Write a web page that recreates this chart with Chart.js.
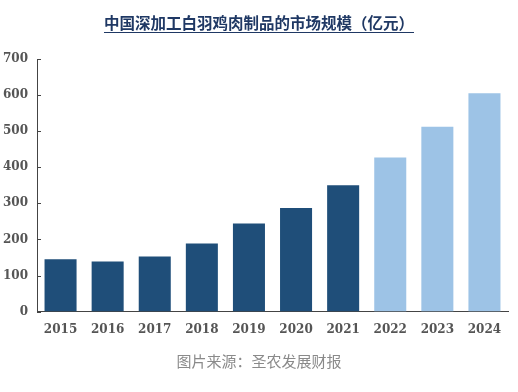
<!DOCTYPE html>
<html><head><meta charset="utf-8">
<script src="https://cdn.jsdelivr.net/npm/chart.js@4"></script>
<style>
html,body{margin:0;padding:0;background:#fff;}
#wrap{position:relative;width:518px;height:392px;overflow:hidden;}
#title{position:absolute;left:0;width:518px;top:11px;text-align:center;font-family:"Noto Sans CJK SC";font-weight:bold;font-size:15.5px;color:#1f3864;text-decoration:underline;text-underline-offset:3px;line-height:22px;}
#foot{position:absolute;left:0;width:518px;top:351px;text-align:center;font-family:"Noto Sans CJK SC";font-size:15px;color:#8a8a8a;line-height:20px;}
canvas{position:absolute;left:0;top:0;}
</style></head>
<body><div id="wrap">
<canvas id="c" width="518" height="392"></canvas>
<div id="title">中国深加工白羽鸡肉制品的市场规模（亿元）</div>
<div id="foot">图片来源：圣农发展财报</div>
</div>
<script>
const categories = ["2015","2016","2017","2018","2019","2020","2021","2022","2023","2024"];
const values = [145, 139, 153, 189, 244, 287, 350, 427, 512, 605];
const actualCount = 7; // 2015-2021 actual, 2022-2024 forecast
const yTicks = [0,100,200,300,400,500,600,700];
const colors = values.map((v,i)=> i < actualCount ? "#1f4e79" : "#9dc3e6");

const innerTicks = {
  id:"innerTicks",
  afterDraw(chart){
    const ctx=chart.ctx, y=chart.scales.y, x=chart.scales.x;
    ctx.save();
    ctx.strokeStyle="#444"; ctx.lineWidth=1;
    yTicks.forEach(t=>{
      const py=Math.round(y.getPixelForValue(t))+0.5;
      ctx.beginPath(); ctx.moveTo(x.left,py); ctx.lineTo(x.left+4,py); ctx.stroke();
    });
    ctx.restore();
  }
};

new Chart(document.getElementById("c"),{
  type:"bar",
  data:{labels:categories,datasets:[{data:values,backgroundColor:colors,borderWidth:0,barPercentage:0.68,categoryPercentage:1}]},
  options:{
    responsive:false,animation:false,
    layout:{padding:{top:59,left:0,right:10,bottom:44}},
    plugins:{legend:{display:false},tooltip:{enabled:false}},
    scales:{
      x:{grid:{display:false,drawTicks:false},border:{display:true,color:"#444",width:1},
         ticks:{padding:11,color:"#555",font:{family:"DejaVu Serif",weight:"bold",size:12}}},
      y:{min:0,max:700,afterBuildTicks(s){s.ticks=yTicks.map(v=>({value:v}));},
         afterFit(s){s.width=37;},
         grid:{display:false,drawTicks:false},border:{display:true,color:"#444",width:1},
         ticks:{padding:9,color:"#555",font:{family:"DejaVu Serif",weight:"bold",size:12}}}
    }
  },
  plugins:[innerTicks]
});
</script>
</body></html>
